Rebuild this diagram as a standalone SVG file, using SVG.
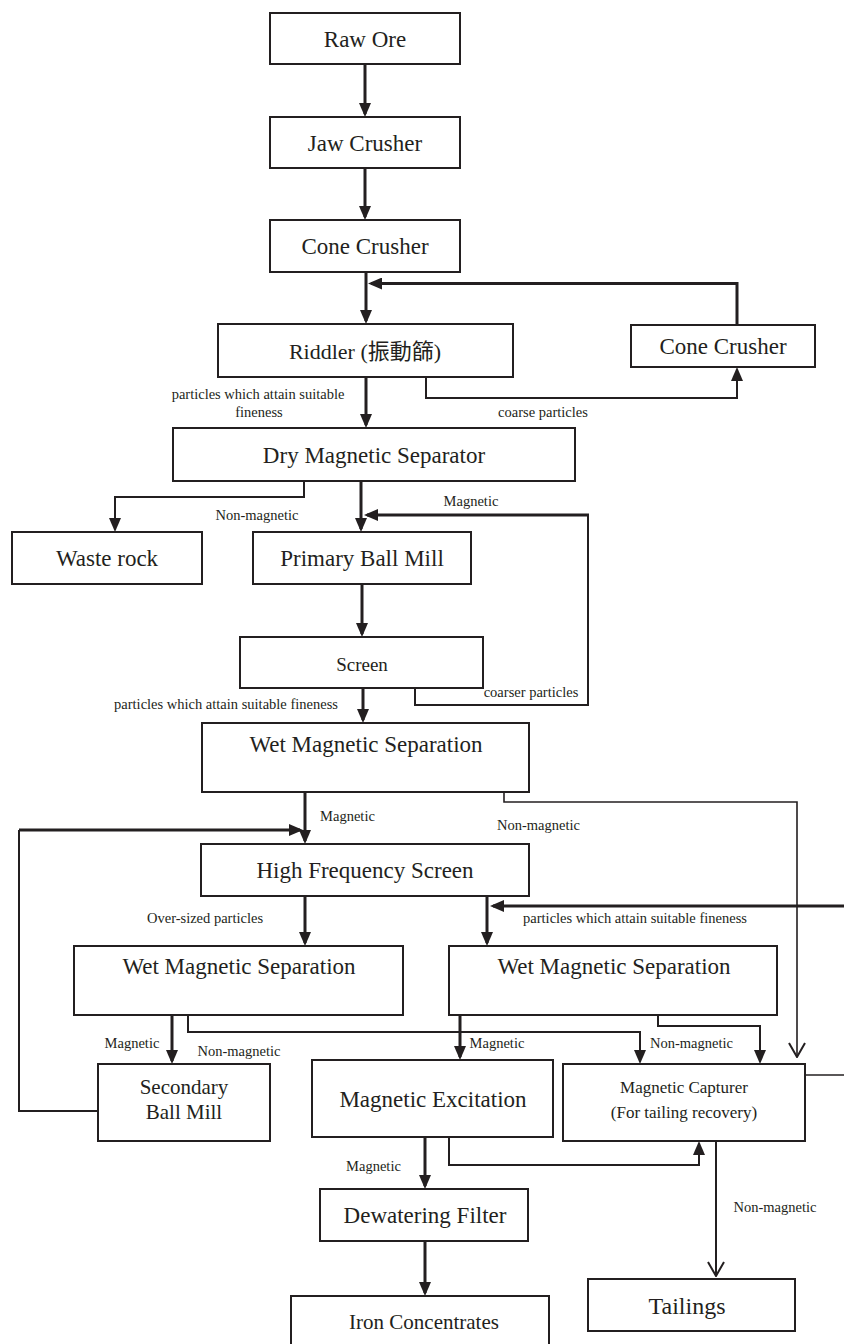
<svg xmlns="http://www.w3.org/2000/svg" width="844" height="1344" viewBox="0 0 844 1344">
<style>
.box{fill:#fff;stroke:#231f20;stroke-width:2}
.t{font-family:"Liberation Serif","Noto Sans CJK TC",serif;fill:#231f20;text-anchor:middle;font-size:23px}
.s{font-family:"Liberation Serif",serif;fill:#231f20;text-anchor:middle;font-size:14.5px}
.thick{fill:none;stroke:#231f20;stroke-width:3}
.thin{fill:none;stroke:#231f20;stroke-width:2}
.hair{fill:none;stroke:#231f20;stroke-width:1.6}
</style>
<defs>
<marker id="arr" viewBox="0 0 14 12" refX="11" refY="6" markerWidth="14" markerHeight="12" markerUnits="userSpaceOnUse" orient="auto">
<path d="M0,0 L14,6 L0,12 z" fill="#231f20"/>
</marker>
<marker id="open" viewBox="0 0 16 18" refX="15" refY="9" markerWidth="16" markerHeight="18" markerUnits="userSpaceOnUse" orient="auto">
<path d="M1,1 L15,9 L1,17" fill="none" stroke="#231f20" stroke-width="2"/>
</marker>
</defs>
<rect width="844" height="1344" fill="#fff"/>
<g id="connectors">
<path class="thick" d="M365,64 V114" marker-end="url(#arr)"/>
<path class="thick" d="M365,168 V217" marker-end="url(#arr)"/>
<path class="thick" d="M366,272 V321" marker-end="url(#arr)"/>
<path class="thick" d="M737,325 V283.5 H371" marker-end="url(#arr)"/>
<path class="thin" d="M426,377 V398 H737 V370" marker-end="url(#arr)"/>
<path class="thick" d="M366,377 V425" marker-end="url(#arr)"/>
<path class="thin" d="M304,481 V497 H115 V529" marker-end="url(#arr)"/>
<path class="thick" d="M361,481 V529" marker-end="url(#arr)"/>
<path class="thin" d="M415,688 V705 H588 V515"/>
<path class="thick" d="M589,515 H367" marker-end="url(#arr)"/>
<path class="thick" d="M362,584 V634" marker-end="url(#arr)"/>
<path class="thick" d="M363,688 V720" marker-end="url(#arr)"/>
<path class="thick" d="M305,792 V841" marker-end="url(#arr)"/>
<path class="hair" d="M504,792 V802 H797 V1057" marker-end="url(#open)"/>
<path class="thin" d="M98,1111 H19 V830"/>
<path class="thick" d="M19,830 H300" marker-end="url(#arr)"/>
<path class="thick" d="M305,896 V943" marker-end="url(#arr)"/>
<path class="thick" d="M487,896 V943" marker-end="url(#arr)"/>
<path class="thick" d="M844,906 H493" marker-end="url(#arr)"/>
<path class="thick" d="M172,1015 V1061" marker-end="url(#arr)"/>
<path class="thin" d="M188,1015 V1032 H640 V1061" marker-end="url(#arr)"/>
<path class="thick" d="M460,1015 V1057" marker-end="url(#arr)"/>
<path class="thin" d="M658,1015 V1026 H760 V1061" marker-end="url(#arr)"/>
<path class="thick" d="M425,1137 V1186" marker-end="url(#arr)"/>
<path class="thin" d="M449,1137 V1165 H699 V1144" marker-end="url(#arr)"/>
<path class="thin" d="M716,1141 V1276" marker-end="url(#open)"/>
<path class="hair" d="M805,1075 H844"/>
<path class="thick" d="M425,1241 V1293" marker-end="url(#arr)"/>
</g>
<g id="labels">
<text class="s" x="258" y="399">particles which attain suitable</text>
<text class="s" x="259" y="417">fineness</text>
<text class="s" x="543" y="417">coarse particles</text>
<text class="s" x="257" y="520">Non-magnetic</text>
<text class="s" x="471" y="506">Magnetic</text>
<text class="s" x="531" y="697">coarser particles</text>
<text class="s" x="226" y="709">particles which attain suitable fineness</text>
<text class="s" x="347.5" y="821">Magnetic</text>
<text class="s" x="538.5" y="830">Non-magnetic</text>
<text class="s" x="205" y="923">Over-sized particles</text>
<text class="s" x="635" y="923">particles which attain suitable fineness</text>
<text class="s" x="132" y="1048">Magnetic</text>
<text class="s" x="239" y="1055.5">Non-magnetic</text>
<text class="s" x="497" y="1048">Magnetic</text>
<text class="s" x="691.5" y="1048">Non-magnetic</text>
<text class="s" x="373.5" y="1171">Magnetic</text>
<text class="s" x="775" y="1211.5">Non-magnetic</text>
</g>
<g id="raw"><rect class="box" x="270" y="13" width="190" height="51"/><text class="t" x="365" y="46.5">Raw Ore</text></g>
<g id="jaw"><rect class="box" x="270" y="117" width="190" height="51"/><text class="t" x="365" y="150.5">Jaw Crusher</text></g>
<g id="cone1"><rect class="box" x="270" y="220" width="190" height="52"/><text class="t" x="365" y="254">Cone Crusher</text></g>
<g id="riddler"><rect class="box" x="218" y="324" width="295" height="53"/><text class="t" x="365" y="358.5" style="font-size:22px">Riddler (振動篩)</text></g>
<g id="cone2"><rect class="box" x="631" y="325" width="184" height="42"/><text class="t" x="723" y="354">Cone Crusher</text></g>
<g id="dry"><rect class="box" x="173" y="428" width="402" height="53"/><text class="t" x="374" y="462.5">Dry Magnetic Separator</text></g>
<g id="waste"><rect class="box" x="12" y="532" width="190" height="52"/><text class="t" x="107" y="566">Waste rock</text></g>
<g id="pbm"><rect class="box" x="253" y="532" width="218" height="52"/><text class="t" x="362" y="566">Primary Ball Mill</text></g>
<g id="screen"><rect class="box" x="240" y="637" width="243" height="51"/><text class="t" x="362" y="670.5" style="font-size:19px">Screen</text></g>
<g id="wms1"><rect class="box" x="202" y="723" width="327" height="69"/><text class="t" x="366" y="752">Wet Magnetic Separation</text></g>
<g id="hfs"><rect class="box" x="201" y="844" width="328" height="52"/><text class="t" x="365" y="878">High Frequency Screen</text></g>
<g id="wmsL"><rect class="box" x="74" y="946" width="329" height="69"/><text class="t" x="239" y="973.5">Wet Magnetic Separation</text></g>
<g id="wmsR"><rect class="box" x="449" y="946" width="328" height="69"/><text class="t" x="614" y="973.5">Wet Magnetic Separation</text></g>
<g id="sbm"><rect class="box" x="98" y="1064" width="172" height="77"/><text class="t" x="184" y="1093.5" style="font-size:21px">Secondary</text><text class="t" x="184" y="1118.5" style="font-size:21px">Ball Mill</text></g>
<g id="me"><rect class="box" x="312" y="1060" width="241" height="77"/><text class="t" x="433" y="1106.5">Magnetic Excitation</text></g>
<g id="cap"><rect class="box" x="563" y="1064" width="242" height="77"/><text class="t" x="684" y="1093" style="font-size:17px">Magnetic Capturer</text><text class="t" x="684" y="1118" style="font-size:17px">(For tailing recovery)</text></g>
<g id="dew"><rect class="box" x="320" y="1189" width="208" height="52"/><text class="t" x="425" y="1223">Dewatering Filter</text></g>
<g id="iron"><rect class="box" x="291" y="1296" width="258" height="64"/><text class="t" x="424" y="1329" style="font-size:21px">Iron Concentrates</text></g>
<g id="tail"><rect class="box" x="588" y="1279" width="207" height="52"/><text class="t" x="687" y="1314" style="font-size:24px">Tailings</text></g>
</svg>
